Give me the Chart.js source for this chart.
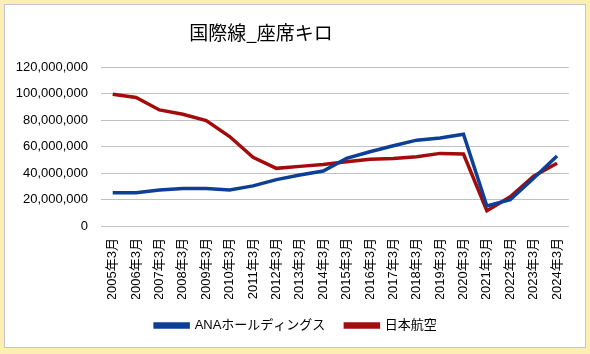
<!DOCTYPE html>
<html lang="ja">
<head>
    <meta charset="UTF-8">
    <title>国際線_座席キロ</title>
    <script src="https://cdn.jsdelivr.net/npm/chart.js@4.4.1/dist/chart.umd.min.js"></script>
    <style>
        html, body { margin: 0; padding: 0; }
        body { width: 590px; height: 354px; background: #fdeeb4; position: relative; overflow: hidden; }
        #frame {
            position: absolute; left: 4px; top: 4px; width: 580px; height: 342px;
            background: #fff; border: 1px solid #c4c4cc;
        }
    </style>
</head>
<body>
<div id="frame"><canvas id="myChart" width="580" height="342"></canvas></div>
<script>
    const chartTitle = '国際線_座席キロ';
    const years = ['2005年3月', '2006年3月', '2007年3月', '2008年3月', '2009年3月', '2010年3月',
        '2011年3月', '2012年3月', '2013年3月', '2014年3月', '2015年3月', '2016年3月', '2017年3月',
        '2018年3月', '2019年3月', '2020年3月', '2021年3月', '2022年3月', '2023年3月', '2024年3月'];
    const ana = [25100000, 25100000, 27200000, 28300000, 28300000, 27200000, 30300000, 35000000,
        38500000, 41500000, 51000000, 56000000, 60600000, 64800000, 66400000, 69200000,
        15100000, 19800000, 36000000, 52800000];
    const jal = [99500000, 97000000, 87600000, 84300000, 79500000, 67500000, 51800000, 43500000,
        45000000, 46500000, 48500000, 50300000, 51000000, 52300000, 54800000, 54300000,
        11600000, 22100000, 37500000, 47300000];
    const yTicks = [0, 20000000, 40000000, 60000000, 80000000, 100000000, 120000000];

    const font = "'Liberation Sans', 'Noto Sans CJK JP', sans-serif";
    Chart.defaults.font.family = font;
    Chart.defaults.color = '#000';

    // title sits a bit left of centre, as in the original sheet
    const titlePlugin = {
        id: 'sheetTitle',
        afterLayout(chart) {
            // legend is centred on the whole frame, not on the padded box
            chart.legend.left += 6;
            chart.legend.right += 6;
        },
        afterDraw(chart) {
            const c = chart.ctx;
            c.save();
            c.font = "19px 'Noto Sans CJK JP', sans-serif";
            c.fillStyle = '#000';
            c.textAlign = 'center';
            c.textBaseline = 'middle';
            c.fillText(chartTitle, 256, 28);
            c.restore();
        }
    };

    let ctx = document.getElementById('myChart').getContext('2d');
    let chart = new Chart(ctx, {
        type: 'line',
        data: {
            labels: years,
            datasets: [{
                label: 'ANAホールディングス',
                data: ana,
                borderColor: '#0c3f96',
                backgroundColor: '#0c3f96',
                borderWidth: 3.5,
                pointRadius: 0,
                tension: 0
            }, {
                label: '日本航空',
                data: jal,
                borderColor: '#a30c0c',
                backgroundColor: '#a30c0c',
                borderWidth: 3.5,
                pointRadius: 0,
                tension: 0
            }]
        },
        plugins: [titlePlugin],
        options: {
            responsive: false,
            animation: false,
            layout: { padding: { left: 5, right: 15, top: 62, bottom: 5 } },
            plugins: {
                title: { display: false },
                legend: {
                    position: 'bottom',
                    labels: {
                        boxWidth: 33,
                        boxHeight: 3,
                        padding: 20,
                        font: { size: 13 }
                    }
                },
                tooltip: { enabled: false }
            },
            scales: {
                x: {
                    offset: true,
                    grid: { display: false, drawTicks: false },
                    border: { display: false },
                    afterFit: s => { s.height = 73; },
                    ticks: {
                        minRotation: 90, maxRotation: 90, autoSkip: false,
                        font: { size: 13 }, padding: 12
                    }
                },
                y: {
                    min: 0, max: 120000000,
                    afterBuildTicks: function (axis) {
                        axis.ticks = yTicks.map(v => ({ value: v }));
                    },
                    afterFit: s => { s.width = 91; },
                    grid: { color: '#c0c0c0', lineWidth: 1, drawTicks: false },
                    border: { display: false },
                    ticks: {
                        font: { size: 13 }, padding: 13,
                        callback: v => v.toLocaleString('en-US')
                    }
                }
            }
        }
    });
</script>
</body>
</html>
